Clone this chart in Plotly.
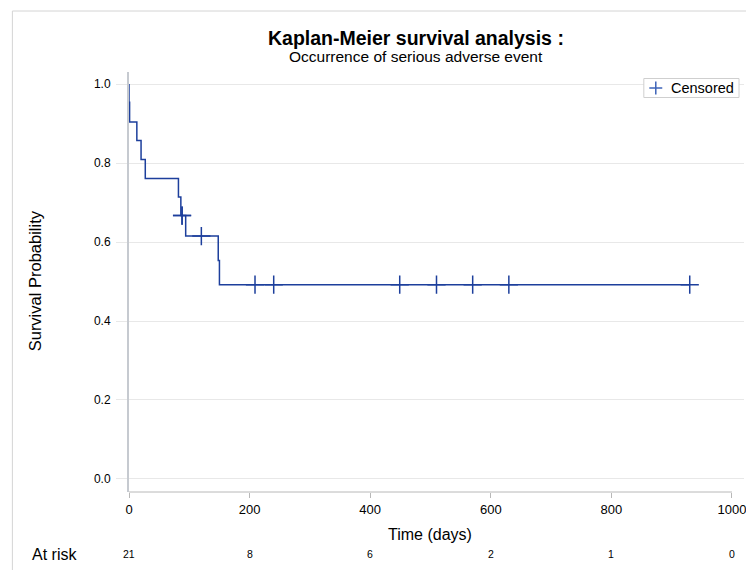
import plotly.graph_objects as go

# Kaplan-Meier step curve
step_times = [0, 0, 1, 13, 20, 27, 82, 86, 94, 148, 150, 930]
step_surv = [1.0, 0.954, 0.904, 0.857, 0.809, 0.761, 0.714, 0.667, 0.615, 0.553, 0.492, 0.492]

# Censored observations
censor_times = [88, 88, 120, 209, 240, 449, 510, 570, 630, 930]
censor_surv = [0.667, 0.667, 0.615, 0.492, 0.492, 0.492, 0.492, 0.492, 0.492, 0.492]

# Number at risk table
risk_times = [0, 200, 400, 600, 800, 1000]
risk_counts = [21, 8, 6, 2, 1, 0]

x_ticks = [0, 200, 400, 600, 800, 1000]
y_ticks = [0.0, 0.2, 0.4, 0.6, 0.8, 1.0]

BLUE = "#1d3f9c"
SANS = "Liberation Sans, Arial, sans-serif"

OFF = 8  # page body margin
W, H = 746, 562
L, R, T, B = 121, 8, 64, 78
PW, PH = W - L - R, H - T - B


def fx(p):
    """page pixel x -> paper x"""
    return (p - OFF - L) / PW


def fy(p):
    """page pixel y -> paper y"""
    return (H - B - (p - OFF)) / PH


fig = go.Figure()
fig.add_trace(go.Scatter(
    x=step_times, y=step_surv, mode="lines", line=dict(shape="hv", color=BLUE, width=1.5),
    showlegend=False, hoverinfo="skip"))
fig.add_trace(go.Scatter(
    x=censor_times, y=censor_surv, mode="markers", name="Censored", showlegend=False,
    marker=dict(symbol="cross-thin", size=13, color=BLUE, line=dict(color=BLUE, width=1.5))))

annotations = [
    dict(text="<b>Kaplan-Meier survival analysis :</b>", xref="paper", yref="paper",
         x=fx(417), y=fy(37.5), xanchor="center", yanchor="middle", showarrow=False,
         font=dict(family=SANS, size=19.5, color="#000")),
    dict(text="Occurrence of serious adverse event", xref="paper", yref="paper",
         x=fx(417), y=fy(57), xanchor="center", yanchor="middle", showarrow=False,
         font=dict(family=SANS, size=15.5, color="#000")),
    dict(text="Survival Probability", xref="paper", yref="paper", textangle=-90,
         x=fx(35), y=fy(281), xanchor="center", yanchor="middle", showarrow=False,
         font=dict(family=SANS, size=16.5, color="#000")),
    dict(text="Time (days)", xref="x", yref="paper",
         x=500, y=fy(534), xanchor="center", yanchor="middle", showarrow=False,
         font=dict(family=SANS, size=16, color="#000")),
    dict(text="At risk", xref="paper", yref="paper",
         x=fx(54), y=fy(554), xanchor="center", yanchor="middle", showarrow=False,
         font=dict(family=SANS, size=16, color="#000")),
    # legend text
    dict(text="Censored", xref="paper", yref="paper",
         x=fx(671), y=fy(88), xanchor="left", yanchor="middle", showarrow=False,
         font=dict(family=SANS, size=14.5, color="#000")),
]
for t, n in zip(risk_times, risk_counts):
    annotations.append(dict(text=str(n), xref="x", yref="paper", x=t, y=fy(554),
                            xanchor="center", yanchor="middle", showarrow=False,
                            font=dict(family=SANS, size=10.5, color="#000")))

shapes = [
    # outer frame
    dict(type="rect", xref="paper", yref="paper", x0=fx(12), x1=fx(800),
         y0=fy(11), y1=fy(640), line=dict(color="#d4d4d4", width=1), layer="below"),
    # x axis line (0..1000)
    dict(type="line", xref="x", yref="paper", x0=0, x1=1000, y0=0, y1=0,
         line=dict(color="#b8b8b8", width=1)),
    # legend box
    dict(type="rect", xref="paper", yref="paper", x0=fx(645.5), x1=fx(741),
         y0=fy(78.5), y1=fy(97.5), line=dict(color="#cfcfcf", width=1),
         fillcolor="white", layer="above"),
    # legend cross symbol
    dict(type="line", xref="paper", yref="paper", x0=fx(651), x1=fx(664),
         y0=fy(88), y1=fy(88), line=dict(color="#3d63b8", width=1.5), layer="above"),
    dict(type="line", xref="paper", yref="paper", x0=fx(657.5), x1=fx(657.5),
         y0=fy(81.5), y1=fy(94.5), line=dict(color="#3d63b8", width=1.5), layer="above"),
]

fig.update_layout(
    width=W, height=H,
    margin=dict(l=L, r=R, t=T, b=B, pad=0),
    paper_bgcolor="white", plot_bgcolor="white",
    annotations=annotations, shapes=shapes, showlegend=False,
    xaxis=dict(range=[0, 1020], tickvals=x_ticks, ticktext=[str(v) for v in x_ticks],
               showgrid=False, zeroline=False, showline=False,
               ticks="outside", ticklen=5, tickcolor="#b8b8b8", tickwidth=1,
               tickfont=dict(family=SANS, size=13, color="#000")),
    yaxis=dict(range=[-0.033, 1.0305], tickvals=y_ticks,
               ticktext=[f"{v:.1f}" for v in y_ticks],
               showgrid=True, gridcolor="#e8e8e8", gridwidth=1, zeroline=False,
               showline=True, linecolor="#c6cad0", linewidth=2,
               ticks="outside", ticklen=11, tickcolor="#e8e8e8", tickwidth=1,
               ticklabelstandoff=3,
               tickfont=dict(family=SANS, size=12, color="#000")),
)

fig.write_html("out.html")
